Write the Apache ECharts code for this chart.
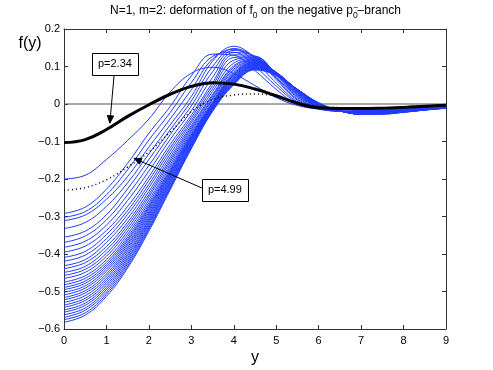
<!DOCTYPE html>
<html><head><meta charset="utf-8">
<script src="https://cdn.jsdelivr.net/npm/echarts@6/dist/echarts.min.js"></script>
<style>html,body{margin:0;padding:0;background:#fff}#c{width:493px;height:370px}</style>
</head><body><div id="c"></div>
<script>
// ---- data ----
const xs = [0, 0.5, 1, 1.5, 2, 2.5, 3, 3.5, 4, 4.5, 5, 5.5, 6, 6.5, 7, 7.5, 8, 8.5, 9];
const blueA   = [-0.200,-0.190,-0.148,-0.097,-0.040, 0.032, 0.082, 0.098, 0.081, 0.049, 0.017,-0.004,-0.012,-0.014,-0.012,-0.010,-0.007,-0.005,-0.003];
const blueB1  = [-0.292,-0.275,-0.227,-0.158,-0.078,-0.007, 0.075, 0.133, 0.130, 0.089, 0.039,-0.001,-0.014,-0.019,-0.017,-0.014,-0.010,-0.007,-0.005];
const blueB2  = [-0.302,-0.287,-0.242,-0.175,-0.096,-0.023, 0.057, 0.127, 0.138, 0.100, 0.048, 0.003,-0.013,-0.019,-0.018,-0.015,-0.011,-0.008,-0.005];
const blueB3  = [-0.311,-0.296,-0.254,-0.193,-0.115,-0.040, 0.038, 0.120, 0.146, 0.112, 0.056, 0.006,-0.012,-0.019,-0.019,-0.015,-0.011,-0.008,-0.006];
const blueB4  = [-0.332,-0.316,-0.273,-0.210,-0.133,-0.056, 0.020, 0.114, 0.154, 0.123, 0.065, 0.010,-0.011,-0.019,-0.020,-0.016,-0.012,-0.009,-0.006];
const blueB5  = [-0.355,-0.339,-0.295,-0.226,-0.148,-0.069, 0.008, 0.100, 0.148, 0.124, 0.069, 0.013,-0.010,-0.019,-0.021,-0.017,-0.013,-0.010,-0.006];
const blueB6  = [-0.369,-0.352,-0.309,-0.242,-0.164,-0.082,-0.005, 0.086, 0.143, 0.126, 0.072, 0.017,-0.010,-0.019,-0.022,-0.018,-0.014,-0.010,-0.007];
const blueB7  = [-0.382,-0.366,-0.323,-0.257,-0.179,-0.095,-0.018, 0.071, 0.137, 0.127, 0.076, 0.020,-0.009,-0.019,-0.022,-0.018,-0.014,-0.011,-0.007];
const blueB8  = [-0.395,-0.379,-0.337,-0.273,-0.194,-0.108,-0.030, 0.057, 0.131, 0.128, 0.079, 0.023,-0.008,-0.019,-0.023,-0.019,-0.015,-0.011,-0.007];
const blueB9  = [-0.409,-0.393,-0.348,-0.284,-0.204,-0.117,-0.037, 0.049, 0.124, 0.126, 0.080, 0.025,-0.007,-0.019,-0.023,-0.019,-0.015,-0.011,-0.007];
const blueB10 = [-0.419,-0.403,-0.359,-0.294,-0.214,-0.125,-0.044, 0.041, 0.117, 0.124, 0.081, 0.027,-0.007,-0.019,-0.024,-0.020,-0.016,-0.012,-0.008];
const blueB11 = [-0.431,-0.415,-0.369,-0.305,-0.223,-0.134,-0.050, 0.033, 0.109, 0.121, 0.081, 0.029,-0.006,-0.019,-0.025,-0.020,-0.016,-0.012,-0.008];
const blueB12 = [-0.439,-0.423,-0.380,-0.315,-0.233,-0.142,-0.057, 0.025, 0.102, 0.119, 0.082, 0.031,-0.005,-0.019,-0.025,-0.020,-0.016,-0.012,-0.008];
const blueB13 = [-0.449,-0.433,-0.389,-0.323,-0.241,-0.149,-0.062, 0.021, 0.098, 0.118, 0.083, 0.032,-0.005,-0.019,-0.025,-0.021,-0.017,-0.012,-0.008];
const blueB14 = [-0.457,-0.441,-0.398,-0.331,-0.248,-0.155,-0.067, 0.016, 0.093, 0.116, 0.084, 0.034,-0.004,-0.019,-0.026,-0.021,-0.017,-0.013,-0.009];
const blueB15 = [-0.465,-0.449,-0.406,-0.339,-0.256,-0.162,-0.072, 0.012, 0.089, 0.115, 0.084, 0.035,-0.004,-0.018,-0.026,-0.022,-0.017,-0.013,-0.009];
const blueB16 = [-0.475,-0.458,-0.415,-0.347,-0.263,-0.168,-0.077, 0.007, 0.084, 0.113, 0.085, 0.036,-0.003,-0.018,-0.026,-0.022,-0.018,-0.013,-0.009];
const blueC1  = [-0.482,-0.465,-0.422,-0.354,-0.269,-0.174,-0.081, 0.003, 0.081, 0.112, 0.084, 0.037,-0.002,-0.018,-0.026,-0.022,-0.018,-0.013,-0.009];
const blueC2  = [-0.489,-0.472,-0.428,-0.360,-0.274,-0.178,-0.084, 0.002, 0.079, 0.111, 0.084, 0.037,-0.002,-0.018,-0.026,-0.022,-0.018,-0.013,-0.009];
const blueC3  = [-0.495,-0.478,-0.434,-0.365,-0.278,-0.181,-0.086, 0.000, 0.077, 0.109, 0.083, 0.037,-0.001,-0.018,-0.026,-0.023,-0.019,-0.014,-0.009];
const blueC4  = [-0.502,-0.485,-0.440,-0.371,-0.283,-0.185,-0.089,-0.001, 0.075, 0.108, 0.083, 0.037,-0.001,-0.018,-0.026,-0.023,-0.019,-0.014,-0.009];
const blueC5  = [-0.509,-0.491,-0.446,-0.376,-0.288,-0.188,-0.091,-0.003, 0.072, 0.106, 0.083, 0.038,-0.001,-0.018,-0.027,-0.023,-0.019,-0.014,-0.010];
const blueC6  = [-0.516,-0.498,-0.453,-0.382,-0.293,-0.192,-0.094,-0.004, 0.070, 0.105, 0.082, 0.038, 0.000,-0.018,-0.027,-0.023,-0.019,-0.015,-0.010];
const blueC7  = [-0.522,-0.504,-0.459,-0.387,-0.297,-0.195,-0.096,-0.006, 0.068, 0.103, 0.082, 0.038, 0.000,-0.018,-0.027,-0.024,-0.020,-0.015,-0.010];
const blueC8  = [-0.529,-0.511,-0.465,-0.393,-0.302,-0.199,-0.099,-0.007, 0.066, 0.102, 0.081, 0.038, 0.000,-0.018,-0.027,-0.024,-0.020,-0.015,-0.010];
const blueC9  = [-0.536,-0.518,-0.471,-0.399,-0.307,-0.203,-0.102,-0.009, 0.064, 0.101, 0.080, 0.038, 0.000,-0.018,-0.027,-0.024,-0.020,-0.015,-0.010];
const blueC10 = [-0.542,-0.524,-0.477,-0.404,-0.311,-0.207,-0.104,-0.010, 0.062, 0.099, 0.080, 0.038, 0.001,-0.018,-0.027,-0.025,-0.021,-0.015,-0.010];
const blueC11 = [-0.549,-0.531,-0.483,-0.410,-0.316,-0.210,-0.107,-0.012, 0.060, 0.098, 0.079, 0.038, 0.001,-0.018,-0.027,-0.025,-0.021,-0.015,-0.010];
const blueC12 = [-0.555,-0.537,-0.489,-0.415,-0.320,-0.214,-0.109,-0.013, 0.058, 0.096, 0.079, 0.038, 0.002,-0.018,-0.027,-0.026,-0.021,-0.016,-0.010];
const blueC13 = [-0.562,-0.544,-0.495,-0.421,-0.325,-0.218,-0.112,-0.015, 0.056, 0.095, 0.078, 0.039, 0.002,-0.018,-0.027,-0.026,-0.021,-0.016,-0.011];
const blueC14 = [-0.569,-0.550,-0.501,-0.426,-0.330,-0.222,-0.114,-0.017, 0.055, 0.094, 0.077, 0.039, 0.002,-0.018,-0.027,-0.026,-0.022,-0.016,-0.011];
const blueC15 = [-0.575,-0.557,-0.507,-0.432,-0.334,-0.225,-0.117,-0.018, 0.053, 0.092, 0.077, 0.039, 0.003,-0.018,-0.027,-0.027,-0.022,-0.016,-0.011];
const blueC16 = [-0.582,-0.563,-0.513,-0.437,-0.339,-0.229,-0.119,-0.020, 0.051, 0.091, 0.076, 0.039, 0.003,-0.018,-0.027,-0.027,-0.022,-0.016,-0.011];
const blueCurves = [blueA, blueB1, blueB2, blueB3, blueB4, blueB5, blueB6, blueB7, blueB8, blueB9, blueB10, blueB11,
  blueB12, blueB13, blueB14, blueB15, blueB16, blueC1, blueC2, blueC3, blueC4, blueC5, blueC6, blueC7, blueC8,
  blueC9, blueC10, blueC11, blueC12, blueC13, blueC14, blueC15, blueC16];
const curveP234 = [-0.103,-0.095,-0.068,-0.033,-0.002, 0.026, 0.047, 0.057, 0.053, 0.040, 0.022, 0.002,-0.010,-0.012,-0.012,-0.011,-0.009,-0.006,-0.003];
const curveP499 = [-0.230,-0.223,-0.202,-0.168,-0.128,-0.075,-0.020, 0.012, 0.024, 0.027, 0.020, 0.005,-0.006,-0.010,-0.012,-0.010,-0.008,-0.005,-0.002];
const xTicks = [0,1,2,3,4,5,6,7,8,9];
const yTicks = [-0.6,-0.5,-0.4,-0.3,-0.2,-0.1,0,0.1,0.2];
const labelP234 = 'p=2.34';
const labelP499 = 'p=4.99';
// annotation anchor points in data units [y, f]
const annP234 = {box:[1.20, 0.107], from:[1.18, 0.077], to:[1.08, -0.051]};
const annP499 = {box:[3.79, -0.229], from:[3.25, -0.224], to:[1.65, -0.145]};

// ---- chart ----
const FONT = "'Liberation Sans', Arial, Helvetica, sans-serif";
const chart = echarts.init(document.getElementById('c'), null, {renderer:'canvas'});
const toPts = arr => xs.map((x,i)=>[x, arr[i]]);
const fmtY = v => { const r = Math.round(v*10)/10; return r===0 ? '0' : (r<0?'\u2212':'') + Math.abs(r); };
const axisCol = '#333';
const series = [];
series.push({type:'line', data:[[xTicks[0],0],[xTicks[xTicks.length-1],0]], symbol:'none', silent:true,
  lineStyle:{color:'#555', width:1}, z:1});
blueCurves.forEach(c => series.push({type:'line', data:toPts(c), symbol:'none', smooth:0.4, silent:true,
  lineStyle:{color:'#1f3bff', width:1}, z:2}));
series.push({type:'line', data:toPts(curveP499), symbol:'none', smooth:0.4, silent:true,
  lineStyle:{color:'#000', width:1.5, type:[1,3]}, z:3});
series.push({type:'line', data:toPts(curveP234), symbol:'none', smooth:0.45, silent:true,
  lineStyle:{color:'#000', width:3}, z:4});

const mkX = (pos, show) => ({type:'value', min:xTicks[0], max:xTicks[xTicks.length-1], interval:1, position:pos,
  axisLine:{show:true, onZero:false, lineStyle:{color:axisCol, width:1}},
  axisTick:{show:true, inside:true, length:4, lineStyle:{color:axisCol}},
  axisLabel:{show:show, color:'#000', fontSize:11, fontFamily:FONT, margin:6},
  splitLine:{show:false}});
const mkY = (pos, show) => ({type:'value', min:yTicks[0], max:yTicks[yTicks.length-1], interval:0.1, position:pos,
  axisLine:{show:true, onZero:false, lineStyle:{color:axisCol, width:1}},
  axisTick:{show:true, inside:true, length:4, lineStyle:{color:axisCol}},
  axisLabel:{show:show, color:'#000', fontSize:11, fontFamily:FONT, margin:4, formatter:fmtY},
  splitLine:{show:false}});

chart.setOption({
  animation:false,
  backgroundColor:'#fff',
  grid:{left:64, right:47, top:29, bottom:41, containLabel:false},
  xAxis:[mkX('bottom', true), mkX('top', false)],
  yAxis:[mkY('left', true), mkY('right', false)],
  series: series
});

// ---- text & annotations ----
const cv = document.createElement('canvas').getContext('2d');
function tw(text, size){ cv.font = size+'px '+FONT; return cv.measureText(text).width; }
const graphics = [];
const TS = 12, SS = 8.5;
const pieces = [
  {t:'N=1, m=2: deformation of f', s:TS},
  {t:'0', s:SS, sub:true},
  {t:' on the negative p', s:TS},
  {t:'0', s:SS, sub:true, sup:'\u2212'},
  {t:'\u2013branch', s:TS}
];
let total = 0; pieces.forEach(p => { p.w = tw(p.t, p.s); total += p.w; });
let cx = 255.5 - total/2; const base = 17;
pieces.forEach(p => {
  graphics.push({type:'text', x:cx, y: p.sub ? base+3 : base, style:{text:p.t, font:p.s+'px '+FONT, fill:'#000', textVerticalAlign:'bottom'}});
  if (p.sup) graphics.push({type:'text', x:cx+0.5, y:base-4.5, style:{text:p.sup, font:p.s+'px '+FONT, fill:'#000', textVerticalAlign:'bottom'}});
  cx += p.w;
});
graphics.push({type:'text', x:30, y:44, style:{text:'f(y)', font:'16px '+FONT, fill:'#000', textAlign:'center', textVerticalAlign:'middle'}});
graphics.push({type:'text', x:255, y:358, style:{text:'y', font:'16px '+FONT, fill:'#000', textAlign:'center', textVerticalAlign:'middle'}});

function arrow(from, to){
  const a = chart.convertToPixel({gridIndex:0}, from), b = chart.convertToPixel({gridIndex:0}, to);
  const ang = Math.atan2(b[1]-a[1], b[0]-a[0]), L = 8, h = 0.4;
  const p1 = [b[0]-L*Math.cos(ang-h), b[1]-L*Math.sin(ang-h)];
  const p2 = [b[0]-L*Math.cos(ang+h), b[1]-L*Math.sin(ang+h)];
  graphics.push({type:'line', shape:{x1:a[0],y1:a[1],x2:b[0],y2:b[1]}, style:{stroke:'#000', lineWidth:1}, z:10});
  graphics.push({type:'polygon', shape:{points:[p1,b,p2]}, style:{fill:'#000', stroke:'#000', lineWidth:1}, z:10});
}
function box(label, at){
  const c = chart.convertToPixel({gridIndex:0}, at);
  const w = tw(label, 11) + 12, h = 22;
  graphics.push({type:'rect', shape:{x:Math.round(c[0]-w/2)+0.5, y:Math.round(c[1]-h/2)+0.5, width:Math.round(w), height:h}, style:{fill:'#fff', stroke:'#000', lineWidth:1}, z:11});
  graphics.push({type:'text', x:c[0], y:c[1], style:{text:label, font:'11px '+FONT, fill:'#000', textAlign:'center', textVerticalAlign:'middle'}, z:12});
}
arrow(annP234.from, annP234.to); box(labelP234, annP234.box);
arrow(annP499.from, annP499.to); box(labelP499, annP499.box);
chart.setOption({graphic: graphics});
</script></body></html>
